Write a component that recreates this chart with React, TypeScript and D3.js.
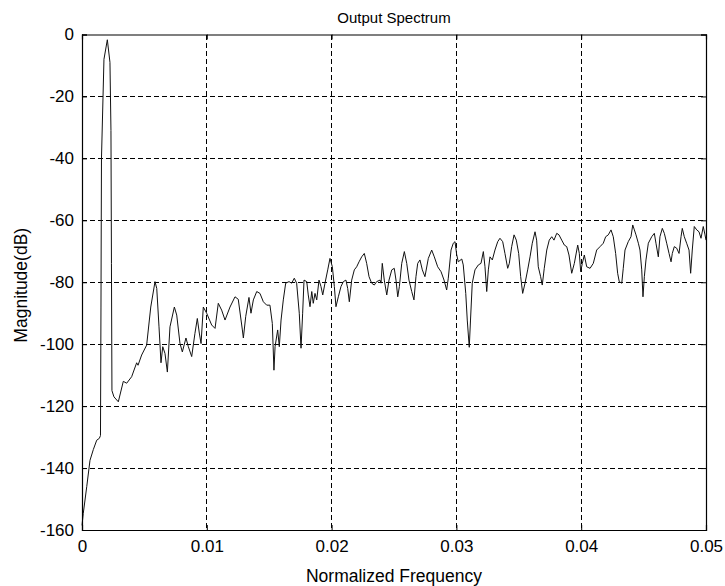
import React, { useEffect, useRef } from 'react';
import * as d3 from 'd3';

// normalized frequency of each traced sample
const FREQ = [
  0, 0.0001, 0.00038, 0.00064, 0.00091, 0.00118, 0.00139, 0.00148, 0.00152, 0.00156,
  0.00176, 0.00203, 0.00224, 0.00232, 0.00236, 0.0024, 0.00256, 0.00291, 0.00331, 0.00358,
  0.00398, 0.00438, 0.00449, 0.00478, 0.00518, 0.00551, 0.00585, 0.00599, 0.00617, 0.00633,
  0.00647, 0.00665, 0.00684, 0.00705, 0.0074, 0.00759, 0.00785, 0.00804, 0.00833, 0.00852,
  0.00879, 0.00905, 0.00924, 0.0094, 0.00954, 0.00972, 0.00999,
  0.01039, 0.01066, 0.01092, 0.01119, 0.01146, 0.01186, 0.01226, 0.01252, 0.01285, 0.01293,
  0.01312, 0.01338, 0.01354, 0.01373, 0.014, 0.01426, 0.01453, 0.0148, 0.01506, 0.01525,
  0.01538, 0.01547, 0.01568, 0.01581, 0.01595, 0.01613, 0.01632, 0.01659, 0.0168, 0.01701,
  0.0172, 0.01741, 0.01755, 0.01768, 0.01779, 0.01801, 0.01813, 0.01827, 0.01841, 0.01853,
  0.01867, 0.01881, 0.01899, 0.01915, 0.01929, 0.01947, 0.01969, 0.01987, 0.02006,
  0.02022, 0.02035, 0.02054, 0.02075, 0.02094, 0.02115, 0.02129, 0.02142, 0.02161, 0.02182,
  0.02201, 0.0222, 0.02241, 0.02262, 0.02281, 0.023, 0.02321, 0.02342, 0.02361, 0.02388,
  0.02396, 0.02406, 0.02422, 0.02442, 0.0246, 0.02482, 0.02502, 0.02516, 0.0253, 0.02543,
  0.02562, 0.02583, 0.02602, 0.0262, 0.02642, 0.0266, 0.02676, 0.0269, 0.02708, 0.02727,
  0.02748, 0.02775, 0.02802, 0.02823, 0.0285, 0.02877, 0.02901, 0.02922, 0.02935, 0.02957,
  0.02975, 0.02989, 0.03002,
  0.03015, 0.03043, 0.03055, 0.03075, 0.03087, 0.03103, 0.03113, 0.03127, 0.03149, 0.03176,
  0.03197, 0.03216, 0.03229, 0.03243, 0.03256, 0.03269, 0.03288, 0.03309, 0.03331, 0.03349,
  0.03371, 0.03389, 0.03411, 0.03424, 0.03443, 0.03462, 0.0348, 0.03499, 0.03515, 0.03531,
  0.0355, 0.03571, 0.0359, 0.03608, 0.0363, 0.03643, 0.03656, 0.03675, 0.03688, 0.03704,
  0.03724, 0.03744, 0.03764, 0.03782, 0.03804, 0.03822, 0.03844, 0.03865, 0.03884, 0.03902,
  0.03924, 0.03945, 0.03972, 0.03985, 0.03996, 0.04009,
  0.04025, 0.04044, 0.04071, 0.04097, 0.04124, 0.04151, 0.04177, 0.04196, 0.04217, 0.04239,
  0.04257, 0.04276, 0.04292, 0.04305, 0.04325, 0.04337, 0.04351, 0.04377, 0.04399, 0.04413,
  0.04426, 0.04439, 0.04458, 0.04471, 0.04485, 0.04495, 0.04506, 0.04519, 0.04538, 0.04565,
  0.04586, 0.04599, 0.04618, 0.04631, 0.0465, 0.04666, 0.04685, 0.04704, 0.0472, 0.0473,
  0.04746, 0.04765, 0.04784, 0.048, 0.0481, 0.04826, 0.04845, 0.04864, 0.04877, 0.0489,
  0.04906, 0.04926, 0.04944, 0.0496, 0.04978, 0.04992, 0.05,
];

// magnitude in dB, same order as FREQ
const MAG_DB = [
  -158.5, -154.7, -146, -137.5, -134, -131, -130.4, -129.5, -88, -40,
  -8, -1.7, -9, -31, -74, -115, -117, -118.6, -112, -112.6,
  -110.5, -106, -106.8, -103.5, -100.3, -88, -79.8, -82, -94.4, -106,
  -100.8, -103, -109, -94.4, -88, -90.6, -99.7, -102.5, -98, -100.8,
  -104, -96.5, -91.7, -96.4, -99.8, -88, -90,
  -93.8, -94.9, -86.8, -89, -92.2, -88, -84.7, -85.5, -95.4, -98,
  -91, -84.9, -90, -85.7, -83, -83.6, -86.3, -87.4, -87.4, -93.3,
  -108.4, -100.8, -95.4, -100.8, -92.2, -85.7, -80.3, -79.8, -80.3, -78.7,
  -80.3, -90, -101.3, -90, -79.3, -79.8, -84.1, -87.9, -83, -86.8,
  -83.6, -85.7, -79.3, -81.4, -84.1, -80.3, -76, -72.3, -75,
  -81.4, -87.9, -84.7, -81.4, -79.8, -79.3, -82, -86.3, -79.3, -76,
  -75, -73.4, -71.8, -70.7, -73.9, -78.2, -80.3, -80.9, -79.8, -79.3,
  -80.3, -73.9, -79.3, -84.1, -79.3, -76, -75.5, -79.3, -84.7, -81.4,
  -73.9, -70.1, -73.9, -79.3, -83, -85.7, -78.2, -73.9, -72.8, -76,
  -78.2, -72.3, -69.6, -71.8, -75, -76.6, -79.3, -82.5, -78.7, -69.6,
  -67.4, -66.9, -71,
  -73.4, -72.5, -74.4, -83.6, -92.2, -101, -92.2, -80.3, -76, -74.4,
  -73.9, -70.1, -75, -83, -76, -71.8, -72.8, -69.6, -66.9, -65.8,
  -66.9, -70.7, -75.5, -73.9, -68.5, -64.7, -66.4, -70.7, -78.2, -83.6,
  -80.3, -76, -71.8, -67.4, -63.7, -66.4, -75, -78.2, -80.9, -75.5,
  -69.6, -66.4, -65.3, -66.4, -64.2, -64.7, -66.4, -68, -68.5, -71.2,
  -77.1, -73.9, -68, -70.7, -76.6, -73.9,
  -71.2, -75, -75.5, -73.9, -69.6, -68.5, -67.4, -65.3, -64.7, -63.1,
  -65.3, -70.7, -77.1, -79.8, -80.3, -75.5, -69.6, -66.9, -65.3, -61.5,
  -63.1, -64.7, -67.4, -69.6, -76, -84.7, -78.2, -72.8, -67.4, -65.3,
  -64.2, -67.4, -71.8, -65.3, -62.6, -64.2, -67.4, -70.7, -73.4, -70.7,
  -68.5, -69, -70.7, -65.3, -62.6, -65.3, -67.4, -69.6, -77.1, -69.6,
  -62, -63.1, -63.7, -65.8, -62, -64.7, -66.4,
];

const X_TICKS = [0, 0.01, 0.02, 0.03, 0.04, 0.05];
const X_TICK_LABELS = ['0', '0.01', '0.02', '0.03', '0.04', '0.05'];
const Y_TICKS = [-160, -140, -120, -100, -80, -60, -40, -20, 0];

const FONT = '"Liberation Sans", Arial, Helvetica, sans-serif';

export default function App() {
  const ref = useRef<SVGSVGElement | null>(null);

  useEffect(() => {
    const svg = d3.select(ref.current);
    svg.selectAll('*').remove();

    const W = 725, H = 586;
    const left = 82, right = 706, top = 34.5, bottom = 530;

    const x = d3.scaleLinear().domain([0, 0.05]).range([left, right]);
    const y = d3.scaleLinear().domain([-160, 0]).range([bottom, top]);

    svg.append('rect').attr('width', W).attr('height', H).attr('fill', '#fff');

    // dashed grid
    const grid = svg.append('g').attr('stroke', '#000').attr('stroke-width', 1)
      .attr('stroke-dasharray', '5,3').attr('shape-rendering', 'crispEdges');
    X_TICKS.slice(1, -1).forEach(t => {
      grid.append('line').attr('x1', x(t)).attr('x2', x(t)).attr('y1', top).attr('y2', bottom);
    });
    Y_TICKS.slice(1, -1).forEach(t => {
      grid.append('line').attr('x1', left).attr('x2', right).attr('y1', y(t)).attr('y2', y(t));
    });

    // spectrum line
    const pts = FREQ.map((f, i) => [f, MAG_DB[i]] as [number, number]);
    const line = d3.line<[number, number]>().x(d => x(d[0])).y(d => y(d[1]));
    svg.append('path')
      .datum(pts)
      .attr('d', line)
      .attr('fill', 'none')
      .attr('stroke', '#111')
      .attr('stroke-width', 1)
      .attr('stroke-linejoin', 'round');

    // axes, ticks pointing inward like a matlab box
    const tickLen = 5;
    const xb = svg.append('g').attr('transform', `translate(0,${bottom})`)
      .call(d3.axisBottom(x).tickValues(X_TICKS).tickSize(-tickLen).tickPadding(10)
        .tickFormat((_, i) => X_TICK_LABELS[i]));
    const xt = svg.append('g').attr('transform', `translate(0,${top})`)
      .call(d3.axisTop(x).tickValues(X_TICKS).tickSize(-tickLen).tickFormat(() => ''));
    const yl = svg.append('g').attr('transform', `translate(${left},0)`)
      .call(d3.axisLeft(y).tickValues(Y_TICKS).tickSize(-tickLen).tickPadding(8)
        .tickFormat(d => String(d)));
    const yr = svg.append('g').attr('transform', `translate(${right},0)`)
      .call(d3.axisRight(y).tickValues(Y_TICKS).tickSize(-tickLen).tickFormat(() => ''));

    [xb, xt, yl, yr].forEach(g => {
      g.select('.domain').attr('stroke', '#000').attr('stroke-width', 1.2);
      g.selectAll('.tick line').attr('stroke', '#000');
      g.selectAll('.tick text')
        .attr('fill', '#000')
        .attr('font-family', FONT)
        .attr('font-size', 17);
    });

    svg.append('text')
      .attr('x', (left + right) / 2).attr('y', 23)
      .attr('text-anchor', 'middle')
      .attr('font-family', FONT).attr('font-size', 15)
      .text('Output Spectrum');

    svg.append('text')
      .attr('x', (left + right) / 2).attr('y', 582)
      .attr('text-anchor', 'middle')
      .attr('font-family', FONT).attr('font-size', 17.5)
      .text('Normalized Frequency');

    svg.append('text')
      .attr('transform', `translate(27,${(top + bottom) / 2 + 3}) rotate(-90)`)
      .attr('text-anchor', 'middle')
      .attr('font-family', FONT).attr('font-size', 17.5)
      .text('Magnitude(dB)');
  }, []);

  return (
    <svg
      ref={ref}
      width={725}
      height={586}
      style={{ position: 'absolute', left: 0, top: 0, display: 'block' }}
    />
  );
}
